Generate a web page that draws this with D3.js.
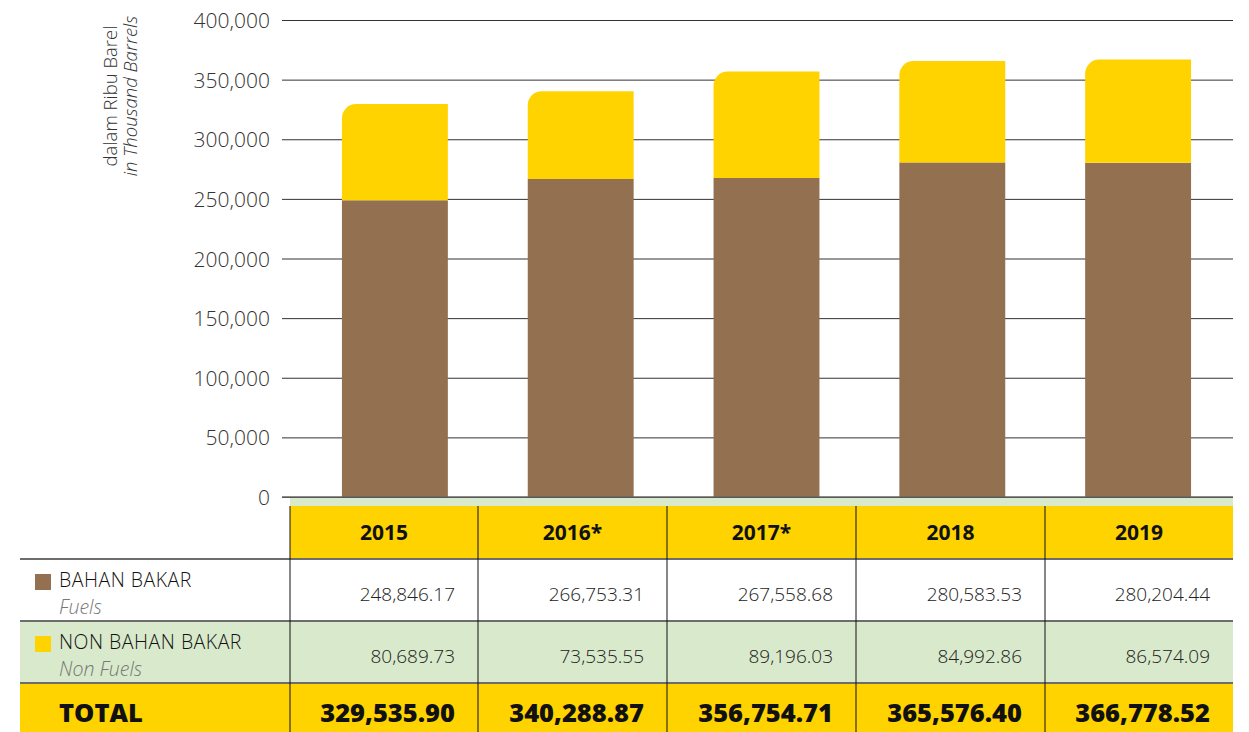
<!DOCTYPE html>
<html>
<head>
<meta charset="utf-8">
<script src="https://cdn.jsdelivr.net/npm/d3@7/dist/d3.min.js"></script>
<style>
  body { margin: 0; background: #fff; }
  svg, svg text { font-family: "Open Sans", sans-serif; }
  svg { display: block; }
</style>
</head>
<body>
<div id="chart"></div>
<script>
// data
var years = ["2015", "2016*", "2017*", "2018", "2019"];
var fuels = [248846.17, 266753.31, 267558.68, 280583.53, 280204.44];
var nonFuels = [80689.73, 73535.55, 89196.03, 84992.86, 86574.09];
var totals = [329535.90, 340288.87, 356754.71, 365576.40, 366778.52];
var yTicks = [0, 50000, 100000, 150000, 200000, 250000, 300000, 350000, 400000];

var W = 1249, H = 732;
var brown = "#937150", yellow = "#ffd300", green = "#d9eacc";

var svg = d3.select("#chart").append("svg").attr("width", W).attr("height", H);

var x = d3.scaleBand().domain(years).range([302, 1231]).paddingInner(0.43).paddingOuter(0.215);
var y = d3.scaleLinear().domain([0, 400000]).range([497, 20]);

// grid
var yAxis = d3.axisLeft(y).tickValues(yTicks).tickSize(-(1233 - 282)).tickPadding(12)
	.tickFormat(d3.format(","));
var gy = svg.append("g").attr("transform", "translate(282,0)").call(yAxis)
	.attr("font-family", null).attr("font-size", null);
gy.select(".domain").remove();
gy.selectAll("line").attr("stroke", "#333").attr("stroke-width", 1);
gy.selectAll("text").attr("fill", "#333").style("font-size", "21px").style("font-weight", 300).attr("dy", "0.36em");

// axis title
var yt = svg.append("text").attr("transform", "translate(117,96) rotate(-90)")
	.attr("text-anchor", "middle").style("font-size", "18.5px").attr("fill", "#333").style("font-weight", 300);
yt.append("tspan").attr("x", 0).attr("dy", 0).text("dalam Ribu Barel");
yt.append("tspan").attr("x", 0).attr("dy", 20).style("font-style", "italic").text("in Thousand Barrels");

// bars
var r = 14;
years.forEach(function(yr, i){
	var x0 = x(yr), bw = x.bandwidth();
	svg.append("rect").attr("x", x0).attr("width", bw)
		.attr("y", y(fuels[i])).attr("height", y(0) - y(fuels[i])).attr("fill", brown);
	var top = y(fuels[i] + nonFuels[i]), bot = y(fuels[i]);
	var p = d3.path();
	p.moveTo(x0, bot);
	p.lineTo(x0, top + r);
	p.arcTo(x0, top, x0 + r, top, r);
	p.lineTo(x0 + bw, top);
	p.lineTo(x0 + bw, bot);
	p.closePath();
	svg.append("path").attr("d", p.toString()).attr("fill", yellow);
});

// table
var cols = [290, 478, 667, 856, 1045, 1233];
var rowTop = 506, hdrBot = 559, r1Bot = 621, r2Bot = 683;

svg.append("rect").attr("x", 290).attr("y", 498).attr("width", 1233 - 290).attr("height", rowTop - 498).attr("fill", green);
svg.append("rect").attr("x", 290).attr("y", rowTop).attr("width", 1233 - 290).attr("height", hdrBot - rowTop).attr("fill", yellow);
svg.append("rect").attr("x", 20).attr("y", r1Bot).attr("width", 1233 - 20).attr("height", r2Bot - r1Bot).attr("fill", green);
svg.append("rect").attr("x", 20).attr("y", r2Bot).attr("width", 1233 - 20).attr("height", H - r2Bot).attr("fill", yellow);

// zero line over strip
svg.append("line").attr("x1", 282).attr("x2", 1233).attr("y1", y(0)).attr("y2", y(0))
	.attr("stroke", "#666").attr("stroke-width", 1.5);

[hdrBot, r1Bot, r2Bot].forEach(function(yy){
	svg.append("line").attr("x1", 20).attr("x2", 1233).attr("y1", yy).attr("y2", yy)
		.attr("stroke", "#6d6d6d").attr("stroke-width", 2);
});
cols.slice(0, 5).forEach(function(cx){
	svg.append("line").attr("x1", cx).attr("x2", cx).attr("y1", rowTop).attr("y2", H)
		.attr("stroke", "#111").attr("stroke-width", 1);
});

years.forEach(function(yr, i){
	var cx = (cols[i] + cols[i + 1]) / 2, rx = cols[i + 1] - 23;
	svg.append("text").attr("x", cx).attr("y", 540).attr("text-anchor", "middle")
		.style("font-size", "21px").style("font-weight", 700).attr("fill", "#111").text(yr);
	svg.append("text").attr("x", rx).attr("y", 601).attr("text-anchor", "end")
		.style("font-size", "19px").style("font-weight", 300).attr("fill", "#222").text(d3.format(",.2f")(fuels[i]));
	svg.append("text").attr("x", rx).attr("y", 663).attr("text-anchor", "end")
		.style("font-size", "19px").style("font-weight", 300).attr("fill", "#222").text(d3.format(",.2f")(nonFuels[i]));
	svg.append("text").attr("x", rx).attr("y", 722).attr("text-anchor", "end")
		.style("font-size", "25.5px").style("font-weight", 800).attr("fill", "#111").text(d3.format(",.2f")(totals[i]));
});

// row labels
var labels = [
	{ name: "BAHAN BAKAR", en: "Fuels", color: brown, y: 587 },
	{ name: "NON BAHAN BAKAR", en: "Non Fuels", color: yellow, y: 649 }
];
labels.forEach(function(l){
	svg.append("rect").attr("x", 35).attr("y", l.y - 13).attr("width", 16).attr("height", 16).attr("fill", l.color);
	svg.append("text").attr("x", 59).attr("y", l.y).style("font-size", "19.5px").style("font-weight", 300)
		.style("letter-spacing", "0.5px").attr("fill", "#111").text(l.name);
	svg.append("text").attr("x", 59).attr("y", l.y + 27).style("font-size", "19.5px").style("font-weight", 300)
		.style("font-style", "italic").attr("fill", "#777").text(l.en);
});
svg.append("text").attr("x", 59).attr("y", 722).style("font-size", "25.5px").style("font-weight", 800)
	.attr("fill", "#111").text("TOTAL");
</script>
</body>
</html>
